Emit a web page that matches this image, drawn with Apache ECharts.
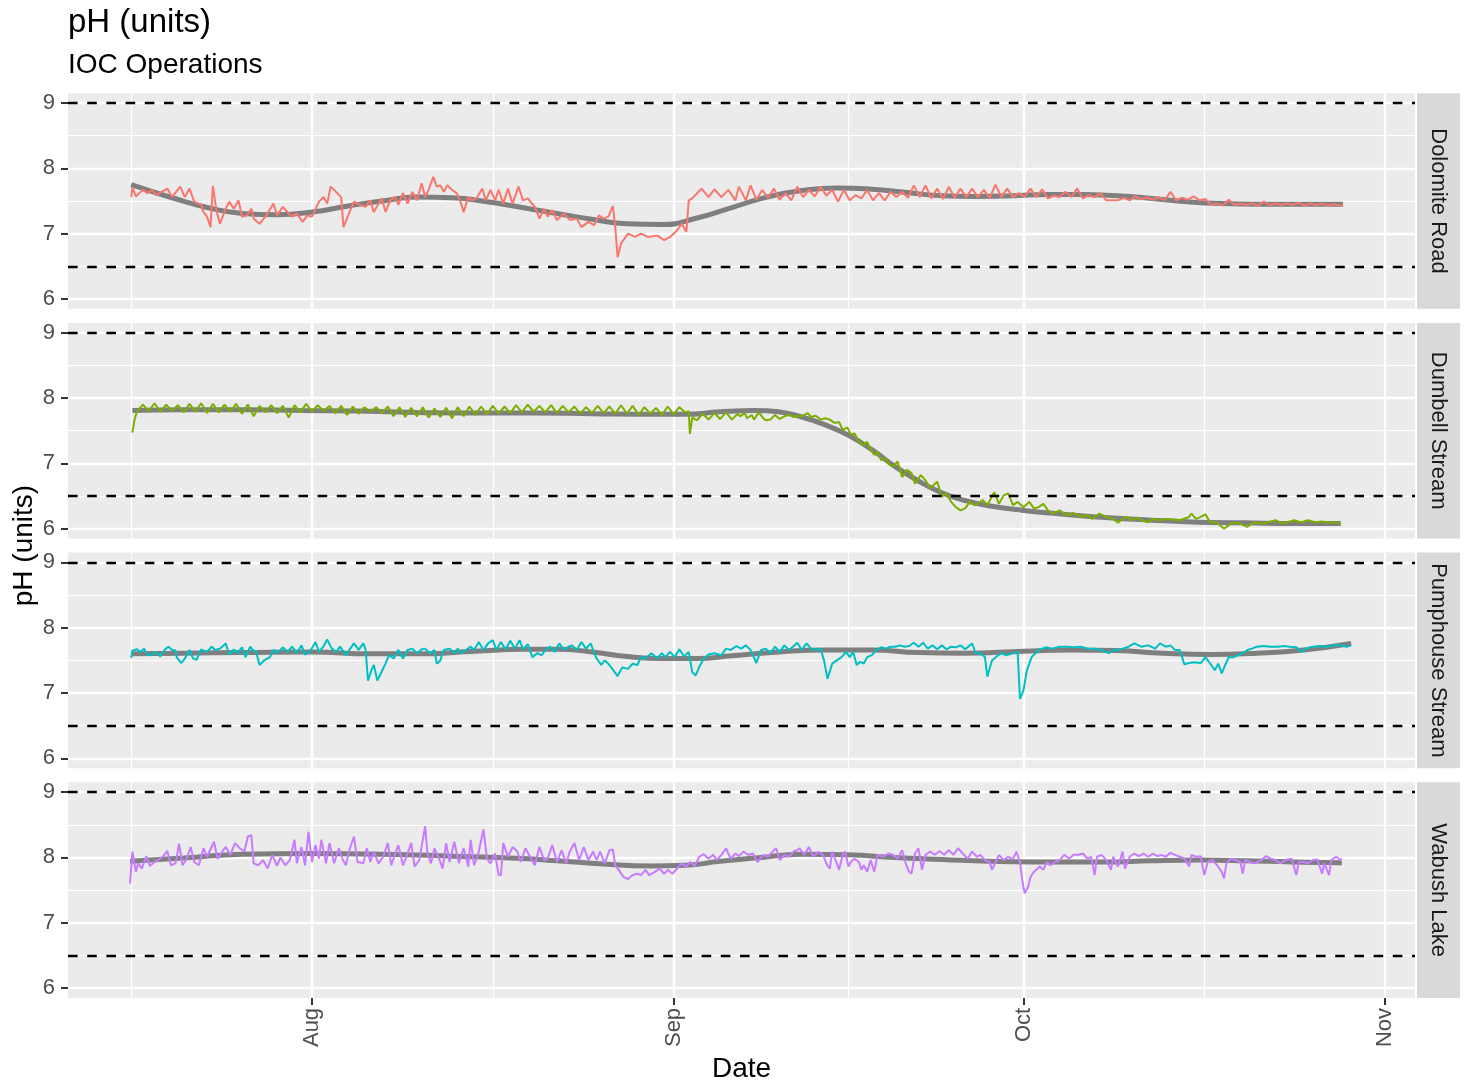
<!DOCTYPE html>
<html>
<head>
<meta charset="utf-8">
<title>pH (units)</title>
<script src="https://cdn.jsdelivr.net/npm/echarts@6/dist/echarts.min.js"></script>
<style>
  html, body { margin: 0; padding: 0; background: #fff; }
  #main { width: 1468px; height: 1086px; }
</style>
</head>
<body>
<div id="main"></div>
<script>
// time is in days counted from Jul 1 (Aug 1 = 31, Sep 1 = 62, Oct 1 = 92, Nov 1 = 123)
var siteNames = ['Dolomite Road', 'Dumbell Stream', 'Pumphouse Stream', 'Wabush Lake'];
var siteColors = ['#F8766D', '#7CAE00', '#00BFC4', '#C77CFF'];
var monthTicks = [31, 62, 92, 123];
var monthLabels = ['Aug', 'Sep', 'Oct', 'Nov'];
var midMonthTicks = [15.5, 46.5, 77, 107.5];
var phTicks = [6, 7, 8, 9];
var phMinorTicks = [6.5, 7.5, 8.5];
var guideLines = [9, 6.5];

// measured pH, [day, pH]
var dolomite = [[15.5,7.56],[15.6,7.71],[15.9,7.57],[16.5,7.67],[16.9,7.62],[17.3,7.67],[17.6,7.59],[18.6,7.69],[19.0,7.56],[19.7,7.72],[20.1,7.56],[20.5,7.69],[20.9,7.49],[21.5,7.44],[21.7,7.33],[22.0,7.26],[22.3,7.10],[22.5,7.73],[22.8,7.36],[23.1,7.15],[23.6,7.38],[23.9,7.49],[24.3,7.38],[24.7,7.51],[25.0,7.26],[25.4,7.28],[25.8,7.38],[26.0,7.23],[26.5,7.15],[27.0,7.26],[27.7,7.46],[28.0,7.28],[28.5,7.41],[28.9,7.33],[29.3,7.26],[29.7,7.31],[30.2,7.18],[30.6,7.28],[31.0,7.26],[31.6,7.49],[32.0,7.56],[32.3,7.46],[32.6,7.72],[32.9,7.67],[33.5,7.56],[33.7,7.10],[34.1,7.28],[34.6,7.49],[35.1,7.44],[35.6,7.41],[36.0,7.51],[36.3,7.33],[36.7,7.46],[37.0,7.54],[37.3,7.33],[37.7,7.51],[38.1,7.56],[38.4,7.44],[38.8,7.62],[39.2,7.46],[39.6,7.64],[40.0,7.51],[40.4,7.77],[40.7,7.56],[41.0,7.67],[41.4,7.87],[41.7,7.72],[42.0,7.74],[42.3,7.64],[42.6,7.74],[43.0,7.67],[43.4,7.62],[43.7,7.51],[44.0,7.33],[44.4,7.56],[44.7,7.51],[45.1,7.54],[45.6,7.69],[45.9,7.51],[46.3,7.67],[46.7,7.51],[47.0,7.67],[47.4,7.46],[47.8,7.69],[48.2,7.46],[48.7,7.72],[49.1,7.51],[49.5,7.54],[50.1,7.41],[50.5,7.23],[50.9,7.38],[51.2,7.26],[51.6,7.36],[52.0,7.21],[52.6,7.31],[53.1,7.21],[53.7,7.23],[54.1,7.10],[54.7,7.18],[55.2,7.13],[55.6,7.28],[56.0,7.23],[56.4,7.26],[56.8,7.42],[57.0,7.10],[57.2,6.64],[57.5,6.85],[58.1,7.00],[58.7,6.95],[59.2,7.00],[59.8,6.95],[60.6,6.97],[61.2,6.90],[61.7,6.95],[62.3,7.05],[62.7,7.15],[63.1,7.03],[63.3,7.51],[63.6,7.54],[64.4,7.69],[65.0,7.56],[65.5,7.68],[66.1,7.56],[66.7,7.67],[67.3,7.51],[67.6,7.72],[68.2,7.51],[68.6,7.74],
  [69.1,7.52],[69.6,7.67],[70.1,7.55],[70.6,7.69],[71.1,7.52],[71.6,7.62],[72.1,7.51],[72.6,7.72],[73.1,7.56],[73.6,7.67],[74.1,7.57],[74.6,7.72],[75.1,7.58],[75.6,7.67],[76.1,7.49],[76.6,7.67],[77.1,7.51],[77.6,7.59],[78.1,7.54],[78.6,7.67],[79.1,7.51],[79.6,7.62],[80.1,7.51],[80.6,7.64],[81.1,7.56],[81.6,7.64],[82.1,7.55],[82.6,7.74],[83.1,7.56],[83.6,7.74],[84.1,7.54],[84.6,7.69],[85.1,7.53],[85.6,7.72],[86.1,7.55],[86.6,7.69],[87.1,7.56],[87.6,7.69],[88.1,7.56],[88.6,7.67],[89.1,7.54],[89.6,7.75],[90.1,7.56],[90.6,7.69],[91.1,7.56],[91.6,7.62],[92.1,7.57],[92.6,7.69],[93.1,7.56],[93.6,7.68],[94.1,7.54],[94.6,7.58],[95.1,7.56],[95.6,7.64],[96.1,7.56],[96.6,7.69],[97.1,7.54],[97.6,7.59],[98.1,7.56],[98.6,7.62],[99.1,7.51],[99.6,7.51],[100.1,7.51],[100.6,7.55],[101.1,7.51],[101.6,7.57],[102.1,7.53],[102.6,7.55],[103.1,7.52],[103.6,7.56],[104.1,7.51],[104.6,7.64],[105.1,7.51],[105.6,7.55],[106.1,7.52],[106.6,7.57],[107.1,7.51],[107.6,7.53],[108.1,7.44],[108.6,7.46],[109.1,7.43],[109.6,7.52],[110.1,7.44],[110.6,7.46],[111.1,7.44],[111.6,7.46],[112.1,7.43],[112.6,7.49],[113.1,7.44],[113.6,7.46],[114.1,7.44],[114.6,7.46],[115.1,7.44],[115.6,7.47],[116.1,7.43],[116.6,7.46],[117.1,7.44],[117.6,7.46],[118.1,7.43],[118.6,7.45],[119.1,7.43],[119.4,7.44]];

var dumbell = [[15.6,7.47],[15.8,7.68],[16.0,7.80],[16.5,7.90],[17.0,7.80],[17.5,7.92],[18.0,7.79],[18.5,7.90],[19.0,7.80],[19.5,7.89],[20.0,7.78],[20.5,7.91],[21.0,7.79],[21.5,7.92],[22.0,7.77],[22.5,7.91],[23.0,7.78],[23.5,7.90],[24.0,7.79],[24.5,7.91],[25.0,7.76],[25.5,7.90],[26.0,7.72],[26.5,7.88],[27.0,7.78],[27.5,7.89],[28.0,7.77],[28.5,7.88],[29.0,7.70],[29.5,7.89],[30.0,7.78],[30.5,7.91],[31.0,7.79],[31.5,7.89],[32.0,7.80],[32.5,7.88],[33.0,7.77],[33.5,7.88],[34.0,7.74],[34.5,7.87],[35.0,7.76],[35.5,7.86],[36.0,7.79],[36.5,7.86],[37.0,7.77],[37.5,7.87],[38.0,7.72],[38.5,7.86],[39.0,7.71],[39.5,7.85],[40.0,7.72],[40.5,7.86],[41.0,7.70],[41.5,7.84],[42.0,7.71],[42.5,7.85],[43.0,7.69],[43.5,7.86],[44.0,7.72],[44.5,7.87],[45.0,7.74],[45.5,7.87],[46.0,7.75],[46.5,7.88],[47.0,7.76],[47.5,7.87],[48.0,7.77],[48.5,7.89],[49.0,7.78],[49.5,7.90],[50.0,7.79],[50.5,7.88],[51.0,7.78],[51.5,7.89],[52.0,7.77],[52.5,7.88],[53.0,7.78],[53.5,7.87],[54.0,7.76],[54.5,7.86],[55.0,7.77],[55.5,7.88],[56.0,7.77],[56.5,7.87],[57.0,7.76],[57.5,7.89],[58.0,7.76],[58.5,7.88],[59.0,7.74],[59.5,7.86],[60.0,7.76],[60.5,7.85],[61.0,7.74],[61.5,7.87],[62.0,7.75],[62.5,7.86],[63.0,7.78],[63.3,7.80],[63.4,7.45],[63.6,7.70],[64.0,7.66],[64.5,7.76],[65.0,7.67],[65.5,7.77],[66.0,7.68],[66.5,7.78],[67.0,7.67],[67.5,7.76],
  [67.7,7.72],[68.1,7.77],[68.3,7.69],[68.7,7.74],[68.9,7.67],[69.3,7.78],[69.7,7.69],[69.9,7.66],[70.3,7.67],[70.7,7.74],[71.1,7.68],[71.5,7.72],[71.9,7.74],[72.3,7.71],[72.6,7.73],[73.0,7.72],[73.5,7.77],[73.8,7.71],[74.2,7.73],[74.6,7.67],[75.0,7.69],[75.4,7.67],[75.8,7.62],[76.2,7.63],[76.5,7.51],[76.9,7.55],[77.2,7.44],[77.5,7.46],[77.8,7.36],[78.2,7.28],[78.6,7.33],[78.9,7.21],[79.2,7.13],[79.5,7.18],[79.8,7.05],[80.2,7.08],[80.4,7.00],[80.8,6.95],[81.2,7.03],[81.6,6.79],[82.0,6.90],[82.4,6.85],[82.7,6.69],[83.2,6.82],[83.6,6.74],[84.0,6.62],[84.6,6.72],[85.0,6.49],[85.4,6.54],[85.8,6.41],[86.2,6.33],[86.6,6.28],[87.0,6.31],[87.4,6.41],[87.8,6.36],[88.1,6.38],[88.5,6.44],[88.9,6.36],[89.5,6.56],[89.9,6.38],[90.3,6.51],[90.7,6.54],[91.1,6.36],[91.5,6.41],[92.0,6.33],[92.5,6.41],[92.9,6.31],[93.3,6.33],[93.7,6.38],[94.1,6.28],[94.5,6.23],[95.1,6.28],[95.5,6.23],[95.9,6.21],[96.3,6.24],[96.9,6.18],[97.5,6.21],[97.9,6.15],[98.5,6.23],[99.1,6.18],[99.7,6.15],[100.1,6.09],[100.5,6.15],[100.9,6.18],[101.3,6.13],[101.7,6.17],[102.1,6.13],[102.7,6.10],[103.1,6.15],[103.7,6.13],[104.2,6.15],[104.8,6.14],[105.4,6.13],[106.2,6.18],[106.4,6.23],[106.8,6.15],[107.2,6.18],[107.6,6.22],[108.0,6.10],[108.6,6.09],[109.2,6.00],[109.8,6.08],[110.4,6.09],[111.2,6.03],[111.8,6.10],[112.4,6.08],[113.0,6.10],[113.6,6.13],[114.2,6.08],[114.6,6.10],[115.2,6.13],[115.8,6.10],[116.4,6.13],[117.0,6.10],[117.6,6.11],[118.2,6.09],[118.8,6.10],[119.2,6.07]];

var pumphouse = [[15.5,7.54],[15.6,7.65],[16.0,7.67],[16.3,7.63],[16.6,7.68],[16.9,7.58],[17.3,7.59],[17.6,7.63],[18.0,7.56],[18.4,7.67],[18.7,7.71],[19.0,7.66],[19.3,7.65],[19.4,7.55],[19.8,7.46],[20.1,7.53],[20.5,7.66],[20.8,7.53],[21.1,7.51],[21.5,7.67],[21.7,7.65],[22.0,7.63],[22.4,7.71],[22.7,7.66],[23.1,7.68],[23.6,7.76],[23.9,7.59],[24.3,7.67],[24.6,7.61],[25.0,7.70],[25.3,7.55],[25.7,7.71],[25.9,7.66],[26.2,7.64],[26.5,7.43],[26.9,7.50],[27.4,7.55],[27.7,7.66],[28.1,7.62],[28.5,7.70],[28.9,7.63],[29.3,7.71],[29.7,7.61],[30.1,7.73],[30.4,7.59],[30.8,7.63],[31.3,7.78],[31.6,7.63],[32.0,7.72],[32.3,7.82],[32.7,7.68],[33.1,7.63],[33.4,7.71],[33.9,7.58],[34.2,7.66],[34.6,7.76],[35.0,7.66],[35.4,7.76],[35.6,7.66],[35.8,7.19],[36.1,7.35],[36.3,7.43],[36.6,7.19],[36.9,7.30],[37.3,7.45],[37.6,7.58],[38.0,7.53],[38.4,7.66],[38.8,7.53],[39.2,7.66],[39.6,7.68],[40.0,7.61],[40.4,7.67],[40.7,7.68],[41.1,7.61],[41.5,7.66],[41.7,7.45],[42.0,7.50],[42.3,7.66],[42.8,7.68],[43.2,7.61],[43.5,7.68],[43.8,7.61],[44.2,7.66],[44.6,7.71],[44.9,7.66],[45.3,7.78],[45.7,7.66],[46.1,7.76],[46.5,7.81],[46.8,7.66],[47.2,7.78],[47.6,7.67],[48.0,7.80],[48.4,7.68],[48.8,7.81],[49.1,7.67],[49.5,7.75],[49.9,7.55],[50.3,7.61],[50.7,7.58],[51.0,7.66],[51.4,7.71],[51.8,7.63],[52.2,7.76],[52.6,7.66],[53.0,7.71],[53.3,7.73],[53.7,7.66],[54.1,7.78],[54.5,7.68],[54.9,7.76],[55.2,7.61],[55.4,7.53],[55.8,7.43],[56.1,7.50],[56.4,7.45],[56.8,7.36],[57.2,7.26],[57.6,7.39],[58.1,7.37],[58.5,7.45],[58.9,7.43],[59.2,7.55],[59.6,7.53],[60.1,7.61],[60.6,7.53],[61.0,7.61],[61.3,7.55],[61.7,7.63],[62.1,7.55],[62.5,7.67],[62.9,7.56],[63.3,7.63],[63.6,7.32],[63.9,7.27],[64.2,7.40],[64.6,7.53],[65.0,7.59],[65.5,7.61],[66.1,7.58],[66.5,7.68],[66.9,7.66],[67.4,7.72],[67.8,7.68],[68.2,7.73],[68.6,7.66],
  [69.1,7.46],[69.5,7.66],[69.9,7.68],[70.3,7.61],[70.7,7.71],[71.1,7.63],[71.5,7.73],[71.9,7.66],[72.3,7.72],[72.6,7.77],[73.0,7.66],[73.4,7.76],[73.8,7.68],[74.2,7.66],[74.6,7.68],[74.9,7.50],[75.2,7.22],[75.6,7.45],[76.0,7.50],[76.4,7.55],[76.8,7.63],[77.1,7.55],[77.4,7.63],[77.7,7.43],[78.0,7.48],[78.3,7.45],[78.6,7.55],[79.0,7.58],[79.4,7.66],[79.8,7.70],[80.2,7.68],[80.6,7.71],[81.0,7.71],[81.4,7.73],[81.8,7.71],[82.2,7.72],[82.6,7.77],[83.0,7.71],[83.4,7.77],[83.8,7.68],[84.2,7.73],[84.6,7.67],[85.0,7.73],[85.4,7.67],[85.8,7.71],[86.2,7.70],[86.6,7.73],[87.0,7.67],[87.4,7.73],[87.6,7.76],[87.9,7.61],[88.3,7.61],[88.7,7.55],[88.9,7.25],[89.3,7.50],[89.7,7.56],[90.1,7.61],[90.5,7.58],[91.1,7.61],[91.5,7.63],[91.7,6.91],[92.0,7.04],[92.3,7.35],[92.7,7.55],[93.3,7.66],[93.9,7.70],[94.5,7.68],[95.1,7.71],[95.7,7.71],[96.3,7.70],[96.9,7.71],[97.5,7.68],[98.1,7.68],[98.7,7.66],[99.3,7.61],[99.7,7.66],[100.1,7.66],[100.5,7.68],[100.9,7.70],[101.5,7.76],[102.1,7.71],[102.7,7.73],[103.3,7.68],[103.7,7.76],[104.2,7.71],[104.6,7.73],[105.0,7.66],[105.4,7.66],[105.8,7.44],[106.2,7.46],[106.6,7.47],[107.2,7.46],[107.6,7.55],[108.1,7.43],[108.4,7.35],[108.7,7.45],[109.0,7.30],[109.3,7.43],[109.6,7.55],[110.0,7.55],[110.4,7.58],[110.8,7.61],[111.2,7.66],[111.6,7.68],[112.0,7.71],[112.6,7.72],[113.2,7.71],[113.8,7.71],[114.4,7.72],[114.8,7.71],[115.4,7.70],[115.8,7.63],[116.2,7.68],[116.8,7.71],[117.4,7.72],[118.0,7.71],[118.6,7.73],[119.2,7.73],[119.7,7.71],[120.1,7.73]];

var wabush = [[15.4,7.60],[15.6,8.09],[15.9,7.78],[16.1,7.91],[16.4,7.83],[16.8,8.02],[17.1,7.87],[17.5,7.93],[17.8,7.96],[18.2,8.01],[18.6,8.10],[18.9,7.88],[19.3,7.91],[19.6,8.21],[19.9,7.88],[20.2,7.96],[20.6,8.16],[20.9,7.93],[21.3,7.88],[21.7,8.14],[22.0,8.01],[22.6,8.24],[22.9,7.98],[23.3,8.09],[23.6,8.16],[24.0,8.04],[24.4,8.22],[24.8,8.14],[25.2,8.09],[25.5,8.32],[25.8,8.34],[26.0,7.91],[26.4,7.88],[26.8,7.96],[27.2,7.83],[27.6,8.04],[28.0,7.87],[28.3,8.00],[28.7,7.88],[29.1,7.96],[29.5,8.27],[29.7,7.91],[30.1,8.16],[30.4,7.88],[30.7,8.39],[31.0,7.93],[31.3,8.19],[31.6,7.98],[31.8,8.27],[32.2,7.91],[32.5,8.22],[32.9,7.91],[33.3,8.14],[33.6,7.98],[33.9,7.88],[34.2,8.11],[34.6,8.32],[34.9,7.93],[35.4,7.91],[35.7,8.14],[36.0,7.93],[36.3,8.09],[36.7,7.91],[37.1,8.01],[37.5,8.22],[37.8,7.88],[38.1,8.04],[38.4,8.19],[38.8,7.88],[39.1,8.01],[39.5,8.22],[39.8,7.86],[40.2,7.96],[40.7,8.48],[40.9,8.06],[41.2,7.91],[41.5,8.14],[41.9,7.98],[42.2,7.83],[42.5,8.22],[42.8,7.93],[43.2,8.24],[43.6,7.91],[44.0,8.14],[44.4,7.86],[44.6,8.27],[44.9,7.88],[45.3,8.09],[45.7,8.43],[46.0,7.98],[46.3,7.91],[46.7,8.06],[47.0,7.73],[47.2,7.73],[47.4,8.22],[47.8,8.01],[48.2,8.16],[48.6,8.09],[48.9,7.93],[49.3,8.14],[49.7,8.01],[50.1,7.88],[50.5,8.16],[50.9,7.96],[51.2,7.98],[51.6,8.19],[52.0,7.93],[52.4,8.11],[52.8,7.91],[53.1,8.09],[53.5,8.22],[53.9,7.96],[54.3,8.16],[54.7,7.96],[55.1,8.09],[55.4,7.96],[55.7,8.09],[56.1,7.91],[56.5,8.11],[56.8,8.12],[57.0,7.88],[57.3,7.81],[57.7,7.70],[58.1,7.67],[58.5,7.73],[58.9,7.75],[59.2,7.73],[59.6,7.81],[59.9,7.73],[60.4,7.78],[60.8,7.83],[61.2,7.75],[61.5,7.81],[61.9,7.75],[62.3,7.83],[62.7,7.91],[63.1,7.86],[63.4,7.93],[63.8,7.87],[64.2,8.01],[64.6,8.05],[65.0,7.98],[65.4,8.04],[65.7,7.96],[66.1,8.04],[66.5,8.14],[66.9,7.98],[67.3,8.06],[67.6,8.02],[68.0,8.09],[68.4,8.04],[68.8,8.06],[69.2,7.93],
  [69.7,8.04],[70.1,8.01],[70.5,8.09],[70.8,8.14],[71.1,7.96],[71.5,8.04],[71.9,8.01],[72.3,8.09],[72.6,8.11],[72.8,8.14],[73.2,8.04],[73.6,8.16],[74.0,8.01],[74.4,8.09],[74.8,8.04],[75.2,7.87],[75.4,7.83],[75.6,8.09],[76.0,7.91],[76.2,7.81],[76.5,8.04],[76.7,8.09],[77.0,7.86],[77.2,7.93],[77.5,7.98],[77.9,7.93],[78.1,7.81],[78.3,7.88],[78.6,7.78],[78.9,7.96],[79.2,7.78],[79.5,8.04],[80.0,8.01],[80.4,8.06],[80.8,8.04],[81.2,7.98],[81.6,8.11],[81.9,7.91],[82.2,7.78],[82.4,7.75],[82.7,8.06],[83.0,8.14],[83.3,7.81],[83.6,8.04],[84.0,8.09],[84.4,8.04],[84.8,8.10],[85.2,8.04],[85.6,8.11],[86.0,8.04],[86.4,8.14],[86.8,8.06],[87.2,7.98],[87.6,8.09],[88.0,8.01],[88.3,8.04],[88.7,7.96],[89.1,7.93],[89.3,7.81],[89.7,7.96],[89.9,8.04],[90.3,7.96],[90.7,8.01],[91.1,7.97],[91.4,8.09],[91.7,7.93],[91.9,7.65],[92.1,7.45],[92.4,7.55],[92.6,7.70],[92.9,7.78],[93.1,7.81],[93.4,7.86],[93.7,7.81],[94.0,7.93],[94.3,7.88],[94.7,7.93],[95.1,7.96],[95.5,8.04],[95.9,7.98],[96.3,8.04],[96.7,8.04],[97.1,8.06],[97.5,7.98],[97.8,8.01],[98.1,7.73],[98.3,8.01],[98.7,8.04],[99.1,7.96],[99.5,7.81],[99.7,8.01],[100.1,7.86],[100.5,8.09],[100.7,7.83],[101.1,8.01],[101.5,8.06],[101.9,8.02],[102.3,8.06],[102.7,8.01],[103.1,8.06],[103.5,8.02],[103.8,8.04],[104.2,8.01],[104.6,8.07],[105.0,8.04],[105.4,8.01],[105.8,7.98],[106.2,7.86],[106.4,8.04],[106.8,8.01],[107.2,8.02],[107.5,7.73],[107.8,7.93],[108.2,7.96],[108.6,7.88],[109.0,7.78],[109.2,7.68],[109.4,7.91],[109.8,7.98],[110.2,7.96],[110.6,7.93],[110.8,7.75],[111.0,7.96],[111.4,7.93],[111.8,7.91],[112.4,7.96],[112.8,8.02],[113.2,7.98],[113.6,7.96],[114.0,7.91],[114.2,7.93],[114.6,7.97],[115.0,7.98],[115.4,7.73],[115.6,7.93],[116.0,7.93],[116.4,7.91],[116.8,7.96],[117.2,7.97],[117.6,7.75],[117.8,7.91],[118.2,7.73],[118.4,7.96],[118.8,8.01],[119.2,7.96],[119.3,7.98]];

// smoothed trend per site, [day, pH]
var dolomiteTrend = [[15.5,7.75],[19,7.55],[22,7.40],[25,7.31],[28,7.29],[31,7.33],[34,7.42],[37,7.50],[40,7.56],[43,7.55],[46,7.49],[49,7.40],[52,7.31],[55,7.22],[58,7.15],[61,7.14],[64,7.24],[67,7.40],[70,7.56],[73,7.66],[76,7.70],[79,7.68],[82,7.63],[85,7.58],[88,7.57],[91,7.58],[94,7.60],[97,7.60],[100,7.58],[103,7.54],[106,7.49],[109,7.46],[112,7.45],[115,7.45],[119.4,7.45]];
var dumbellTrend = [[15.6,7.81],[20,7.82],[25,7.82],[30,7.81],[35,7.80],[40,7.78],[45,7.77],[50,7.77],[55,7.76],[60,7.75],[63,7.75],[66,7.79],[69,7.81],[71,7.79],[73,7.71],[75,7.59],[77,7.43],[79,7.21],[81,6.95],[83,6.73],[85,6.55],[87,6.43],[89,6.35],[92,6.28],[95,6.23],[99,6.17],[103,6.13],[107,6.10],[111,6.09],[115,6.08],[119.2,6.08]];
var pumphouseTrend = [[15.5,7.60],[20,7.61],[25,7.62],[31,7.63],[36,7.60],[40,7.60],[45,7.64],[49,7.67],[52,7.67],[55,7.63],[58,7.56],[61,7.53],[64,7.53],[67,7.57],[71,7.63],[75,7.66],[79,7.66],[83,7.62],[87,7.61],[92,7.64],[96,7.66],[100,7.65],[104,7.61],[108,7.59],[112,7.61],[116,7.66],[120.1,7.76]];
var wabushTrend = [[15.4,7.94],[20,7.99],[25,8.05],[31,8.06],[37,8.05],[43,8.02],[48,7.99],[52,7.95],[56,7.90],[60,7.87],[63,7.88],[66,7.94],[69,7.99],[73,8.05],[77,8.04],[81,8.00],[85,7.97],[89,7.94],[93,7.93],[99,7.93],[103,7.95],[107,7.96],[111,7.95],[115,7.93],[119.3,7.92]];

var siteData = [dolomite, dumbell, pumphouse, wabush];
var siteTrend = [dolomiteTrend, dumbellTrend, pumphouseTrend, wabushTrend];

var font = '"Liberation Sans", Arial, sans-serif';
var xMin = 10.08, xMax = 125.57;
var yMin = 5.85, yMax = 9.15;
var panelTop = 93.2, panelH = 215.6, panelStep = 229.7;
var panelLeft = 68, panelRight = 1415;

var myChart = echarts.init(document.getElementById('main'));

var grids = [], xAxes = [], yAxes = [], series = [], graphics = [];

siteNames.forEach(function(name, i){
    var top = panelTop + i * panelStep;
    var last = i === siteNames.length - 1;

    grids.push({
        left: panelLeft, right: 1468 - panelRight, top: top, height: panelH,
        show: true, backgroundColor: '#EBEBEB', borderWidth: 0,
        outerBoundsMode: 'none'
    });

    // major month lines (+ labels on the bottom panel)
    xAxes.push({
        type: 'value', gridIndex: i, min: xMin, max: xMax,
        axisLine: { show: false },
        axisTick: { show: last, customValues: monthTicks, length: 7, lineStyle: { color: '#333333', width: 2 } },
        axisLabel: {
            show: last, customValues: monthTicks, rotate: 90, margin: 10,
            fontSize: 22, color: '#4D4D4D', fontFamily: font,
            formatter: function(v){ return monthLabels[monthTicks.indexOf(v)]; }
        },
        splitLine: { show: true, lineStyle: { color: '#FFFFFF', width: 2.4 } }
    });
    // minor mid-month lines
    xAxes.push({
        type: 'value', gridIndex: i, min: xMin, max: xMax,
        axisLine: { show: false },
        axisTick: { show: false, customValues: midMonthTicks },
        axisLabel: { show: false, customValues: midMonthTicks },
        splitLine: { show: true, lineStyle: { color: '#FFFFFF', width: 1.2 } }
    });

    yAxes.push({
        type: 'value', gridIndex: i, min: yMin, max: yMax,
        axisLine: { show: false },
        axisTick: { show: true, customValues: phTicks, length: 7, lineStyle: { color: '#333333', width: 2 } },
        axisLabel: { show: true, customValues: phTicks, margin: 13, fontSize: 22, color: '#4D4D4D', fontFamily: font },
        splitLine: { show: true, lineStyle: { color: '#FFFFFF', width: 2.4 } }
    });
    yAxes.push({
        type: 'value', gridIndex: i, min: yMin, max: yMax,
        axisLine: { show: false },
        axisTick: { show: false, customValues: phMinorTicks },
        axisLabel: { show: false, customValues: phMinorTicks },
        splitLine: { show: true, lineStyle: { color: '#FFFFFF', width: 1.2 } }
    });

    // loess-like trend
    series.push({
        type: 'line', name: name + ' trend',
        xAxisIndex: i * 2, yAxisIndex: i * 2,
        data: siteTrend[i], smooth: 0.5, symbol: 'none',
        lineStyle: { color: '#7F7F7F', width: 5 },
        emphasis: { disabled: true }, silent: true, z: 2
    });
    // measurements + guide lines
    series.push({
        type: 'line', name: name,
        xAxisIndex: i * 2, yAxisIndex: i * 2,
        data: siteData[i], symbol: 'none',
        lineStyle: { color: siteColors[i], width: 2 },
        emphasis: { disabled: true }, silent: true, z: 3,
        markLine: {
            silent: true, symbol: ['none', 'none'],
            label: { show: false },
            lineStyle: { color: '#000000', width: 2.4, type: [9.6, 9.6] },
            emphasis: { disabled: true },
            data: guideLines.map(function(v){ return { yAxis: v }; })
        }
    });

    // facet strip on the right
    graphics.push({
        type: 'rect', silent: true,
        shape: { x: panelRight + 2, y: top, width: 43, height: panelH },
        style: { fill: '#D9D9D9' }
    });
    graphics.push({
        type: 'text', silent: true,
        x: panelRight + 23.5, y: top + panelH / 2, rotation: -Math.PI / 2,
        style: { text: name, fontSize: 22, fontFamily: font, fill: '#1A1A1A', align: 'center', verticalAlign: 'middle' }
    });
});

// axis titles
graphics.push({
    type: 'text', silent: true, x: 24, y: panelTop + (3 * panelStep + panelH) / 2, rotation: Math.PI / 2,
    style: { text: 'pH (units)', fontSize: 28, fontFamily: font, fill: '#000000', align: 'center', verticalAlign: 'middle' }
});
graphics.push({
    type: 'text', silent: true, x: (panelLeft + panelRight) / 2, y: 1069,
    style: { text: 'Date', fontSize: 28, fontFamily: font, fill: '#000000', align: 'center', verticalAlign: 'middle' }
});

var option = {
    animation: false,
    backgroundColor: '#FFFFFF',
    textStyle: { fontFamily: font },
    title: [
        { text: 'pH (units)', left: 68, top: 6, padding: 0,
          textStyle: { fontSize: 33, fontWeight: 'normal', color: '#000000', fontFamily: font } },
        { text: 'IOC Operations', left: 68, top: 51, padding: 0,
          textStyle: { fontSize: 28, fontWeight: 'normal', color: '#000000', fontFamily: font } }
    ],
    grid: grids,
    xAxis: xAxes,
    yAxis: yAxes,
    series: series,
    graphic: graphics
};

myChart.setOption(option);
</script>
</body>
</html>
